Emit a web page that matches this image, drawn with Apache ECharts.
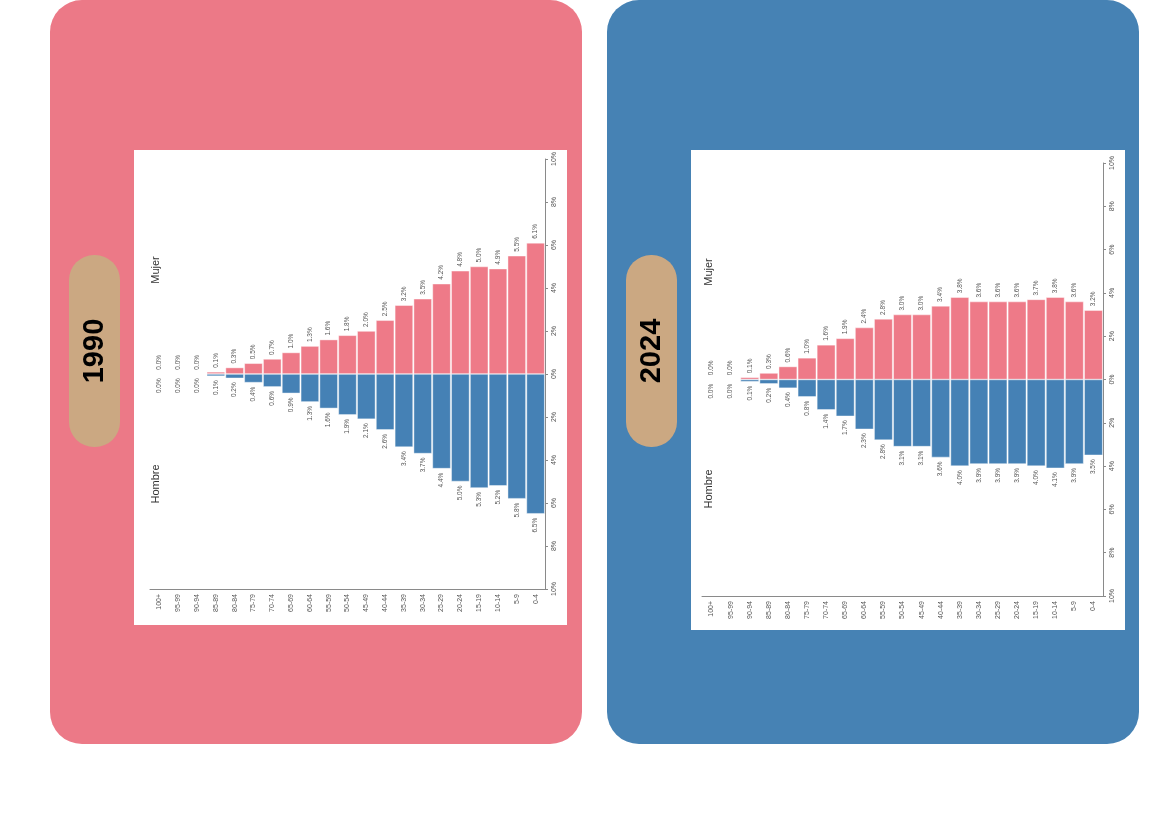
<!DOCTYPE html>
<html><head><meta charset="utf-8">
<script src="https://cdn.jsdelivr.net/npm/echarts@6/dist/echarts.min.js"></script>
<style>html,body{margin:0;padding:0;background:#fff}#c{width:1164px;height:827px}</style>
</head><body><div id="c"></div>
<script>
var ageGroups = ['100+','95-99','90-94','85-89','80-84','75-79','70-74','65-69','60-64','55-59','50-54','45-49','40-44','35-39','30-34','25-29','20-24','15-19','10-14','5-9','0-4'];
var female1990 = [0.0,0.0,0.0,0.1,0.3,0.5,0.7,1.0,1.3,1.6,1.8,2.0,2.5,3.2,3.5,4.2,4.8,5.0,4.9,5.5,6.1];
var male1990   = [0.0,0.0,0.0,0.1,0.2,0.4,0.6,0.9,1.3,1.6,1.9,2.1,2.6,3.4,3.7,4.4,5.0,5.3,5.2,5.8,6.5];
var female2024 = [0.0,0.0,0.1,0.3,0.6,1.0,1.6,1.9,2.4,2.8,3.0,3.0,3.4,3.8,3.6,3.6,3.6,3.7,3.8,3.6,3.2];
var male2024   = [0.0,0.0,0.1,0.2,0.4,0.8,1.4,1.7,2.3,2.8,3.1,3.1,3.6,4.0,3.9,3.9,3.9,4.0,4.1,3.9,3.5];
var years = ['1990','2024'];
var sexLabels = ['Mujer','Hombre'];

var PINK = '#EC7987', BLUE = '#4682B4', TAN = '#CBA882';
var FONT = 'Liberation Sans, Arial, sans-serif';
var chart = echarts.init(document.getElementById('c'));

function xAx(i){
  return {type:'category', gridIndex:i, data:ageGroups, position:'bottom',
    axisLine:{onZero:false, lineStyle:{color:'#8a8a8a', width:1}},
    axisTick:{show:false},
    axisLabel:{rotate:90, interval:0, fontSize:7, color:'#555', fontFamily:FONT, margin:5}};
}
function yAx(i){
  return {type:'value', gridIndex:i, position:'right', min:-10, max:10, interval:2,
    axisLine:{show:true, lineStyle:{color:'#8a8a8a', width:1}},
    axisTick:{show:true, length:3, lineStyle:{color:'#8a8a8a'}},
    splitLine:{show:false},
    axisLabel:{rotate:90, fontSize:7, color:'#555', fontFamily:FONT, margin:6,
      formatter:function(v){return Math.abs(v)+'%';}}};
}
function ser(i, data, neg, color){
  return {type:'bar', xAxisIndex:i, yAxisIndex:i, stack:'s'+i,
    data: data.map(function(v){return neg ? -v : v;}),
    barCategoryGap:'3%',
    itemStyle:{color:color, borderColor:'rgba(255,255,255,0.7)', borderWidth:0.6},
    label:{show:true, position: neg ? 'bottom' : 'top', rotate:90,
      align: neg ? 'right' : 'left', verticalAlign:'middle', distance:4,
      fontSize:6.5, color:'#555', fontFamily:FONT,
      formatter:function(p){return Math.abs(p.value).toFixed(1)+'%';}}};
}

var graphics = [
  {type:'rect', shape:{x:50,y:0,width:532,height:744,r:32}, style:{fill:PINK}, z:-10},
  {type:'rect', shape:{x:607,y:0,width:532,height:744,r:32}, style:{fill:BLUE}, z:-10},
  {type:'rect', shape:{x:134,y:150,width:433,height:475}, style:{fill:'#fff'}, z:-5},
  {type:'rect', shape:{x:691,y:150,width:434,height:480}, style:{fill:'#fff'}, z:-5},
  {type:'rect', shape:{x:69,y:255,width:51,height:192,r:25}, style:{fill:TAN}, z:-5},
  {type:'rect', shape:{x:626,y:255,width:51,height:192,r:25}, style:{fill:TAN}, z:-5},
  {type:'text', x:95, y:351, rotation:Math.PI/2, style:{text:years[0], fill:'#000', font:'bold 29px '+FONT, align:'center', verticalAlign:'middle'}},
  {type:'text', x:652, y:351, rotation:Math.PI/2, style:{text:years[1], fill:'#000', font:'bold 29px '+FONT, align:'center', verticalAlign:'middle'}},
  {type:'text', x:156, y:270, rotation:Math.PI/2, style:{text:sexLabels[0], fill:'#333', font:'11px '+FONT, align:'center', verticalAlign:'middle'}},
  {type:'text', x:156, y:484, rotation:Math.PI/2, style:{text:sexLabels[1], fill:'#333', font:'11px '+FONT, align:'center', verticalAlign:'middle'}},
  {type:'text', x:709, y:272, rotation:Math.PI/2, style:{text:sexLabels[0], fill:'#333', font:'11px '+FONT, align:'center', verticalAlign:'middle'}},
  {type:'text', x:709, y:489, rotation:Math.PI/2, style:{text:sexLabels[1], fill:'#333', font:'11px '+FONT, align:'center', verticalAlign:'middle'}}
];

chart.setOption({
  animation:false,
  graphic: graphics,
  grid:[
    {left:150, top:159, width:395, height:430},
    {left:702, top:163, width:401, height:433}
  ],
  xAxis:[xAx(0), xAx(1)],
  yAxis:[yAx(0), yAx(1)],
  series:[
    ser(0, female1990, false, '#EE7A88'),
    ser(0, male1990, true, '#4581B5'),
    ser(1, female2024, false, '#EE7A88'),
    ser(1, male2024, true, '#4581B5')
  ]
});
</script></body></html>
